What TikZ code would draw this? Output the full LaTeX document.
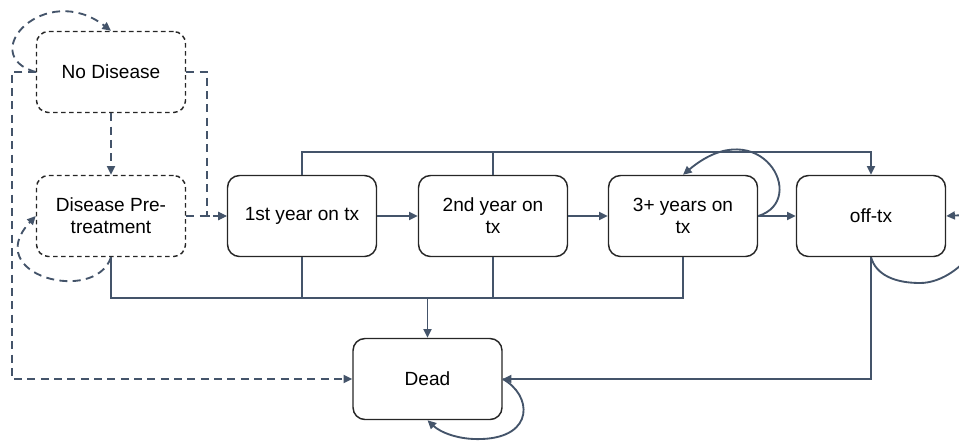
\documentclass[tikz,border=0pt]{standalone}
\usepackage{fontspec}
\setmainfont{Liberation Sans}
\usetikzlibrary{arrows.meta}
\definecolor{lnc}{HTML}{44546A}
\definecolor{bdc}{HTML}{262626}
\begin{document}
\begin{tikzpicture}[x=0.75pt,y=-0.75pt,
 box/.style={draw=bdc, line width=1.1pt, rounded corners=9pt, minimum width=111.75pt, minimum height=60.75pt, align=center, font=\fontsize{14.3}{16.5}\selectfont, inner sep=2pt},
 dbox/.style={box, dash pattern=on 3.5pt off 2.5pt},
 conn/.style={draw=lnc, line width=1.4pt},
 dconn/.style={conn, dash pattern=on 6pt off 4pt},
 arr/.style={-{Triangle[length=6.5pt,width=6pt]}}
]
\useasboundingbox (0,0) rectangle (959,440);
\node[dbox] (nd) at (111,72) {No Disease};
\node[dbox] (pre) at (111,216) {Disease Pre-\\treatment};
\node[box] (y1) at (302,216) {1st year on tx};
\node[box] (y2) at (493,216) {2nd year on\\tx};
\node[box] (y3) at (683,216) {3+ years on\\tx};
\node[box] (off) at (871,216) {off-tx};
\node[box] (dead) at (427.5,379) {Dead};
\coordinate (tb) at (302,152);
\coordinate (bb) at (302,298);
% top bus
\draw[conn,arr] (y1.north) -- (y1.north |- tb) -| (off.north);
\draw[conn] (y2.north) -- (y2.north |- tb);
% bottom bus
\draw[conn] (pre.south) -- (pre.south |- bb) -- (y3.south |- bb) -- (y3.south);
\draw[conn] (y1.south) -- (y1.south |- bb);
\draw[conn] (y2.south) -- (y2.south |- bb);
\draw[conn,arr] (dead.north |- bb) -- (dead.north);
% chain
\draw[conn,arr] (y1) -- (y2);
\draw[conn,arr] (y2) -- (y3);
\draw[conn,arr] (y3) -- (off);
\draw[conn,arr] (off.south) |- (dead.east);
% self loops
\draw[conn,arr] (y3.east) .. controls (810,200) and (760,110) .. (y3.north);
\draw[conn,arr] (off.south) .. controls (876,275) and (895,283) .. (920,283) .. controls (965,283) and (1010,212) .. (off.east);
\draw[conn,arr] (dead.east) .. controls (532,395) and (535,437) .. (482,439) .. controls (458,440) and (440,432) .. (dead.south);
% dashed
\draw[dconn,arr] (nd) -- (pre);
\draw[dconn,arr] (nd.east) -- ++(21,0) |- (y1.west);
\draw[dconn,arr] (pre) -- (y1);
\draw[dconn,arr] (nd.west) -- ++(-24,0) |- (dead.west);
\draw[dconn,arr] (nd.west) .. controls (-25,55) and (45,-20) .. (nd.north);
\draw[dconn,arr] (pre.south) .. controls (95,305) and (-20,275) .. (pre.west);
\end{tikzpicture}
\end{document}
